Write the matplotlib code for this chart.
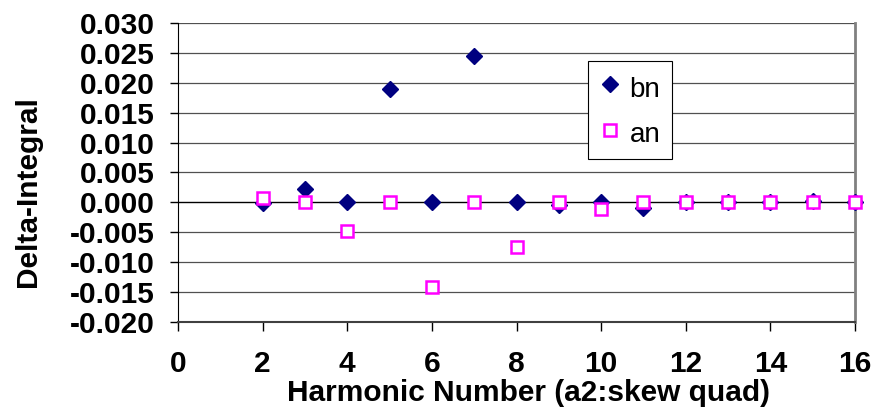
import matplotlib
matplotlib.use("Agg")
import matplotlib.pyplot as plt
from matplotlib.ticker import FuncFormatter

harmonic = [2, 3, 4, 5, 6, 7, 8, 9, 10, 11, 12, 13, 14, 15, 16]
bn = [-0.0001, 0.0023, 0.0, 0.0189, 0.0, 0.0244, 0.0, -0.0005, 0.0, -0.0010,
      0.0, 0.0, 0.0, 0.0002, 0.0]
an = [0.0008, 0.0001, -0.0047, 0.0001, -0.0142, 0.0001, -0.0075, 0.0001,
      -0.0011, 0.0001, 0.0001, 0.0001, 0.0001, 0.0001, 0.0001]
x_ticks = [0, 2, 4, 6, 8, 10, 12, 14, 16]
y_ticks = [-0.020, -0.015, -0.010, -0.005, 0.000, 0.005, 0.010, 0.015, 0.020, 0.025, 0.030]

plt.rcParams['font.family'] = ['Liberation Sans', 'DejaVu Sans']
plt.rcParams['axes.unicode_minus'] = False

FS = 21.5

fig = plt.figure(figsize=(8.72, 4.17), dpi=100)
ax = fig.add_axes([178/872, 1-322/417, (855-178)/872, (322-23)/417])

ax.set_xlim(0, 16)
ax.set_ylim(-0.020, 0.030)

for yv in y_ticks[1:]:
    if yv == 0:
        continue
    ax.axhline(yv, color='#505050', lw=0.9, zorder=1)
ax.axhline(0, color='black', lw=1.0, zorder=1)

ax.plot(harmonic, bn, linestyle='none', marker='D', markersize=8.6,
        color='#000080', markeredgecolor='#000080', label='bn', clip_on=False, zorder=3)
ax.plot(harmonic, an, linestyle='none', marker='s', markersize=8.3,
        markerfacecolor='white', markeredgecolor='#FF00FF', markeredgewidth=1.8,
        label='an', clip_on=False, zorder=4)

ax.set_xticks(x_ticks)
ax.set_yticks(y_ticks)
ax.yaxis.set_major_formatter(FuncFormatter(lambda v, p: f"{v:.3f}".replace("-0.000", "0.000")))
ax.tick_params(axis='y', direction='out', length=6, width=1, pad=11,
               labelsize=FS, colors='black')
ax.tick_params(axis='x', direction='out', length=6.5, width=1, pad=14,
               labelsize=FS, colors='black')
for lbl in ax.get_xticklabels() + ax.get_yticklabels():
    lbl.set_fontweight('bold')

ax.spines['top'].set_visible(False)
ax.spines['left'].set_color('black')
ax.spines['right'].set_color('#808080')
ax.spines['right'].set_linewidth(2)
ax.spines['bottom'].set_color('#404040')
ax.spines['bottom'].set_linewidth(1.5)

ax.set_xlabel('Harmonic Number (a2:skew quad)', fontsize=FS, fontweight='bold')
ax.xaxis.set_label_coords(0.517, -0.19)
ax.set_ylabel('Delta-Integral', fontsize=FS, fontweight='bold', va='center')
ax.yaxis.set_label_coords(-0.221, 0.435)

leg = ax.legend(loc='upper left', bbox_to_anchor=(0.6056, 0.873), fontsize=20,
                frameon=True, fancybox=False, edgecolor='black', framealpha=1,
                borderpad=0.4, handlelength=0.8, handleheight=1.3, handletextpad=0.3,
                labelspacing=0.55, borderaxespad=0)
leg.get_frame().set_linewidth(0.8)

fig.savefig('out.png', dpi=100)
